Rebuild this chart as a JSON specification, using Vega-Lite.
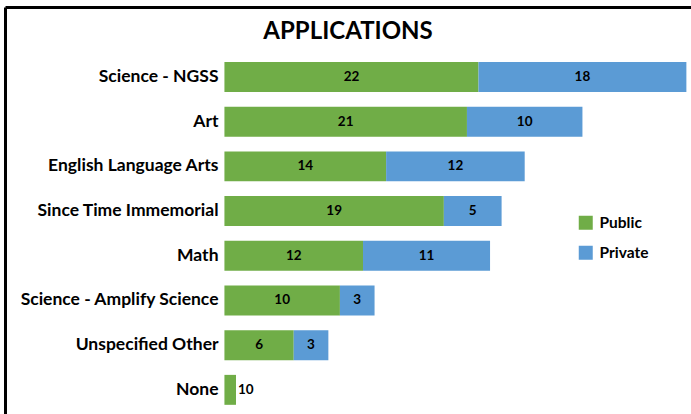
{
  "$schema": "https://vega.github.io/schema/vega-lite/v6.json",
  "autosize": {"type": "none"},
  "padding": {"left": 5, "top": 7, "right": 0, "bottom": 0},
  "width": 686,
  "height": 407,
  "background": "white",
  "title": {"text": "APPLICATIONS", "font": "Lato", "fontSize": 24, "fontWeight": "bold", "color": "black", "anchor": "middle", "offset": -37},
  "data": {"values": [
    {"category": "Science - NGSS", "type": "Public", "value": 22},
    {"category": "Science - NGSS", "type": "Private", "value": 18},
    {"category": "Art", "type": "Public", "value": 21},
    {"category": "Art", "type": "Private", "value": 10},
    {"category": "English Language Arts", "type": "Public", "value": 14},
    {"category": "English Language Arts", "type": "Private", "value": 12},
    {"category": "Since Time Immemorial", "type": "Public", "value": 19},
    {"category": "Since Time Immemorial", "type": "Private", "value": 5},
    {"category": "Math", "type": "Public", "value": 12},
    {"category": "Math", "type": "Private", "value": 11},
    {"category": "Science - Amplify Science", "type": "Public", "value": 10},
    {"category": "Science - Amplify Science", "type": "Private", "value": 3},
    {"category": "Unspecified Other", "type": "Public", "value": 6},
    {"category": "Unspecified Other", "type": "Private", "value": 3},
    {"category": "None", "type": "Public", "value": 1},
    {"category": "None", "type": "Private", "value": 0}
  ]},
  "transform": [
    {"calculate": "indexof(['Public','Private'], datum.type)", "as": "ord"},
    {"stack": "value", "groupby": ["category"], "sort": [{"field": "ord"}], "as": ["v0", "v1"]},
    {"calculate": "(datum.v0 + datum.v1) / 2", "as": "mid"}
  ],
  "encoding": {
    "y": {
      "field": "category", "type": "nominal",
      "sort": ["Science - NGSS", "Art", "English Language Arts", "Since Time Immemorial", "Math", "Science - Amplify Science", "Unspecified Other", "None"],
      "scale": {"paddingInner": 0.33, "paddingOuter": 0.7176, "align": 0.857, "round": false},
      "axis": {"title": null, "domain": false, "ticks": false, "offset": -219, "labelPadding": 6, "labelLimit": 0, "labelFont": "Lato", "labelFontSize": 17.5, "labelFontWeight": "bold", "labelColor": "black"}
    }
  },
  "layer": [
    {
      "mark": {"type": "bar"},
      "encoding": {
        "x": {
          "field": "v0", "type": "quantitative",
          "scale": {"domain": [-19, 40.4], "nice": false, "zero": false},
          "axis": {"orient": "top", "title": null, "labels": false, "ticks": false, "domain": true, "domainColor": "black", "domainWidth": 3, "grid": true, "values": [-19], "gridColor": "black", "gridWidth": 3, "gridOpacity": 1}
        },
        "x2": {"field": "v1"},
        "color": {
          "field": "type", "type": "nominal",
          "sort": ["Public", "Private"],
          "scale": {"domain": ["Public", "Private"], "range": ["#70ad47", "#5b9bd5"]},
          "legend": {"title": null, "orient": "none", "legendX": 573, "legendY": 208, "symbolType": "square", "symbolSize": 196, "symbolStrokeWidth": 0, "labelFont": "Lato", "labelFontSize": 15.5, "labelFontWeight": "bold", "labelColor": "black", "rowPadding": 13, "labelOffset": 6}
        }
      }
    },
    {
      "transform": [{"filter": "datum.category !== 'None'"}],
      "mark": {"type": "text", "font": "Lato", "fontSize": 13.5, "fontWeight": "bold", "color": "black"},
      "encoding": {
        "x": {"field": "mid", "type": "quantitative"},
        "text": {"field": "value", "type": "nominal"}
      }
    },
    {
      "transform": [
        {"filter": "datum.category === 'None'"},
        {"pivot": "type", "value": "value", "groupby": ["category"]},
        {"calculate": "datum.Public + '' + datum.Private", "as": "lab"},
        {"calculate": "datum.Public + datum.Private", "as": "tot"}
      ],
      "mark": {"type": "text", "font": "Lato", "fontSize": 13.5, "fontWeight": "bold", "color": "black", "align": "left", "dx": 2},
      "encoding": {
        "x": {"field": "tot", "type": "quantitative"},
        "text": {"field": "lab", "type": "nominal"}
      }
    }
  ],
  "config": {"view": {"stroke": null}}
}
